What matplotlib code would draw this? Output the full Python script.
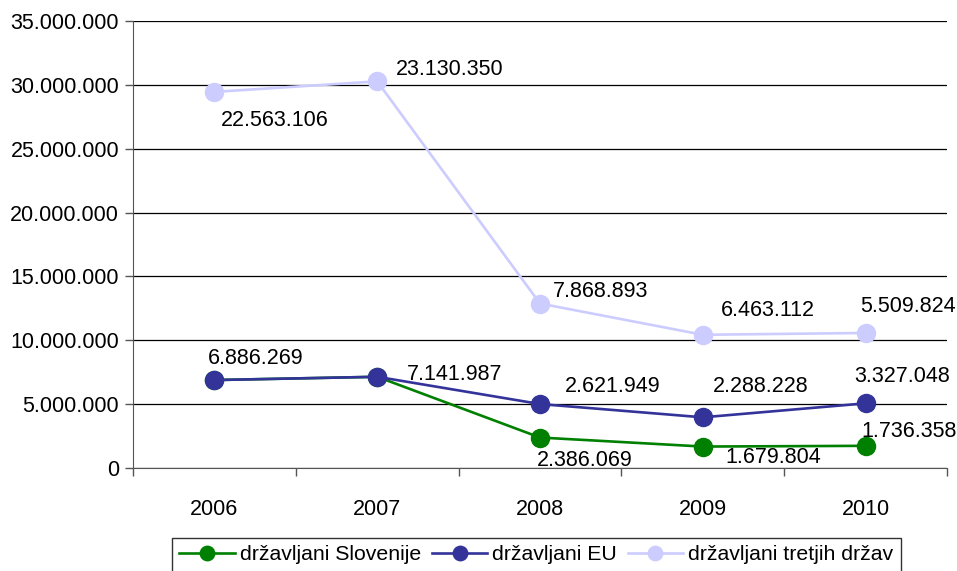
import numpy as np
import matplotlib.pyplot as plt
from matplotlib.ticker import FuncFormatter

plt.rcParams['font.family'] = ['Liberation Sans', 'DejaVu Sans']

years = ['2006', '2007', '2008', '2009', '2010']
slovenija = [6886269, 7141987, 2386069, 1679804, 1736358]
eu = [0, 0, 2621949, 2288228, 3327048]
tretje = [22563106, 23130350, 7868893, 6463112, 5509824]
names = ['državljani Slovenije', 'državljani EU', 'državljani tretjih držav']
colors = ['#008000', '#333399', '#CCCCFF']

# stacked line chart
s1 = np.array(slovenija, dtype=float)
s2 = s1 + np.array(eu)
s3 = s2 + np.array(tretje)

def fmt(v):
    return f'{int(v):,}'.replace(',', '.')

fig = plt.figure(figsize=(9.57, 5.71), dpi=100)
ax = fig.add_axes([133/957, 1 - 468/571, (947 - 133)/957, (468 - 21)/571])

x = np.arange(len(years))
for ys, c, n in zip([s1, s2, s3], colors, names):
    ax.plot(x, ys, color=c, lw=1.9, marker='o', ms=13, mec=c, label=n, zorder=3)

# label offsets in pixels (dx, dy) from each point
off_slo = [(-7, 22), (30, 2), (-3, -23), (23, -11), (-4, 14)]
off_eu = [None, None, (25, 18), (10, 31), (-11, 27)]
off_tre = [(6, -29), (19, 12), (13, 12), (18, 24), (-5, 26)]

for ys, vals, offs in [(s1, slovenija, off_slo), (s2, eu, off_eu), (s3, tretje, off_tre)]:
    for i, (y, v, o) in enumerate(zip(ys, vals, offs)):
        if o is None or v == 0:
            continue
        ax.annotate(fmt(v), (x[i], y), xytext=o, textcoords='offset pixels',
                    ha='left', va='center', fontsize=15.5, color='black', zorder=5)

ax.set_xlim(-0.5, 4.5)
ax.set_ylim(0, 35000000)
ax.set_yticks(np.arange(0, 35000001, 5000000))
ax.yaxis.set_major_formatter(FuncFormatter(lambda v, p: fmt(v)))
ax.set_xticks(x)
ax.set_xticklabels(years)
ax.set_xticks(np.arange(-0.5, 5, 1), minor=True)
ax.tick_params(axis='x', which='major', length=0, pad=22, labelsize=15.5)
ax.tick_params(axis='x', which='minor', length=6, width=1, color='#555555')
ax.tick_params(axis='y', length=6, width=1, color='#555555', labelsize=15.5, pad=4)
ax.grid(axis='y', color='black', lw=0.9, zorder=1)
for s in ['top', 'right']:
    ax.spines[s].set_visible(False)
ax.spines['left'].set_color('#555555')
ax.spines['bottom'].set_color('#555555')

fig.legend(loc='upper left', bbox_to_anchor=(172/957, 1 - 538/571), ncol=3,
           fontsize=15.3, frameon=True, fancybox=False, edgecolor='black',
           markerscale=0.8, handlelength=2.6, columnspacing=0.5,
           handletextpad=0.25, borderpad=0.35, borderaxespad=0)

fig.savefig('out.png', dpi=100)
